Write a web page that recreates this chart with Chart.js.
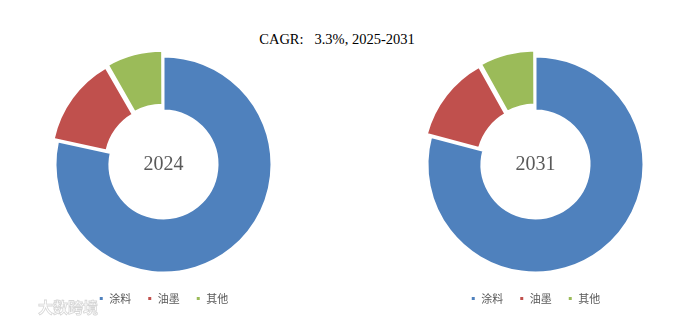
<!DOCTYPE html>
<html>
<head>
<meta charset="utf-8">
<script src="https://cdn.jsdelivr.net/npm/chart.js@4.4.1/dist/chart.umd.min.js"></script>
<style>
  html, body { margin: 0; padding: 0; background: #fff; }
  body { width: 697px; height: 322px; position: relative; overflow: hidden; }
  #title {
    position: absolute; left: 0; width: 674px; top: 31px;
    text-align: center; white-space: pre;
    font: 14.5px "Liberation Serif", serif; color: #000;
  }
  .box { position: absolute; top: 0; width: 327px; height: 322px; }
  #wm {
    position: absolute; left: 38px; top: 296px;
    font: bold 15px "Noto Sans CJK SC", sans-serif; color: #fff;
    -webkit-text-stroke: 0.8px #d6d6d6;
  }
</style>
</head>
<body>
<div id="title">CAGR:   3.3%, 2025-2031</div>
<div class="box" style="left:0px"><canvas id="chart2024"></canvas></div>
<div class="box" style="left:372px"><canvas id="chart2031"></canvas></div>
<div id="wm">大数跨境</div>
<script>
const categories = ['涂料', '油墨', '其他'];
const share2024 = [78.4, 13.3, 8.3];
const share2031 = [79.1, 12.8, 8.1];
const centerLabels = ['2024', '2031'];
const colors = ['#4F81BD', '#C0504D', '#9BBB59'];

// writes the year in the hole of the doughnut
const centerText = {
  id: 'centerText',
  afterDraw(chart, args, opts) {
    const { ctx, chartArea } = chart;
    const x = (chartArea.left + chartArea.right) / 2;
    const y = (chartArea.top + chartArea.bottom) / 2;
    ctx.save();
    ctx.font = '20px "Liberation Serif", serif';
    ctx.fillStyle = '#595959';
    ctx.textAlign = 'center';
    ctx.textBaseline = 'middle';
    ctx.fillText(opts.text, x, y);
    ctx.restore();
  }
};

function makeDoughnut(id, values, label) {
  const ctx = document.getElementById(id).getContext('2d');
  return new Chart(ctx, {
    type: 'doughnut',
    data: {
      labels: categories,
      datasets: [{
        data: values,
        backgroundColor: colors,
        borderColor: '#fff',
        borderWidth: 2,
        offset: [0, 16, 16],
        radius: 108,
        cutout: '50%'
      }]
    },
    options: {
      responsive: true,
      maintainAspectRatio: false,
      animation: false,
      events: [],
      layout: { padding: { top: 52, bottom: 8 } },
      plugins: {
        tooltip: { enabled: false },
        centerText: { text: label },
        legend: {
          display: true,
          position: 'bottom',
          labels: {
            boxWidth: 5,
            boxHeight: 5,
            padding: 16,
            color: '#595959',
            font: { size: 11, family: '"Noto Sans CJK SC", sans-serif' }
          }
        }
      }
    },
    plugins: [centerText]
  });
}

makeDoughnut('chart2024', share2024, centerLabels[0]);
makeDoughnut('chart2031', share2031, centerLabels[1]);
</script>
</body>
</html>
